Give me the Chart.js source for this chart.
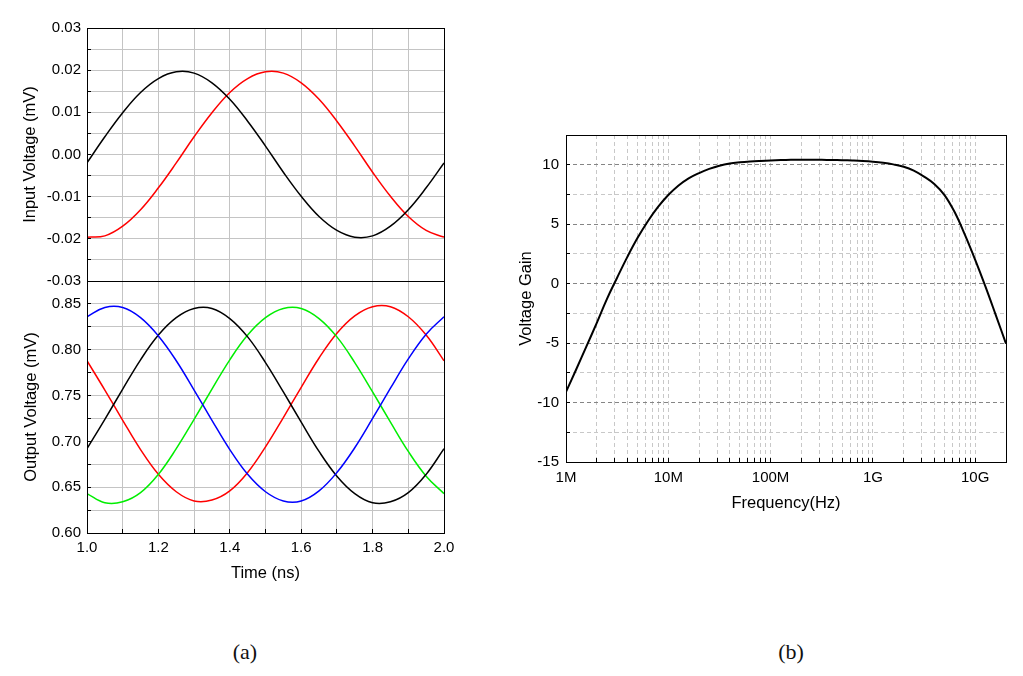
<!DOCTYPE html>
<html>
<head>
<meta charset="utf-8">
<script src="https://cdn.jsdelivr.net/npm/chart.js@4/dist/chart.umd.min.js"></script>
<style>
  body { margin: 0; background: #fff; width: 1023px; height: 676px; position: relative; overflow: hidden; }
  canvas { position: absolute; }
  .cap { position: absolute; width: 60px; text-align: center; font-family: "Liberation Serif", "DejaVu Serif", serif; font-size: 22px; line-height: 22px; color: #111; }
</style>
</head>
<body>
<canvas id="inputChart" width="460" height="290" style="left:0;top:0"></canvas>
<canvas id="outputChart" width="460" height="330" style="left:0;top:270px"></canvas>
<canvas id="gainChart" width="543" height="420" style="left:480px;top:100px"></canvas>
<div class="cap" style="left:215px;top:641px">(a)</div>
<div class="cap" style="left:761px;top:641px">(b)</div>
<script>
"use strict";

// ---------- data ----------
var timeNs = [1.00, 1.05, 1.10, 1.15, 1.20, 1.25, 1.30, 1.35, 1.40, 1.45, 1.50,
  1.55, 1.60, 1.65, 1.70, 1.75, 1.80, 1.85, 1.90, 1.95, 2.00];

var inputBlack = [-0.0020, 0.0042, 0.0099, 0.0147, 0.0180, 0.0196, 0.0193, 0.0170, 0.0131, 0.0079, 0.0020,
  -0.0042, -0.0099, -0.0147, -0.0180, -0.0196, -0.0193, -0.0170, -0.0131, -0.0079, -0.0020];
var inputRed = [-0.0196, -0.0193, -0.0170, -0.0131, -0.0079, -0.0020, 0.0042, 0.0099, 0.0147, 0.0180, 0.0196,
  0.0193, 0.0170, 0.0131, 0.0079, 0.0020, -0.0042, -0.0099, -0.0147, -0.0180, -0.0196];

var outBlue = [0.836, 0.846, 0.846, 0.835, 0.815, 0.788, 0.756, 0.723, 0.691, 0.664, 0.645,
  0.635, 0.635, 0.646, 0.666, 0.693, 0.725, 0.758, 0.790, 0.817, 0.836];
var outBlack = [0.692, 0.724, 0.757, 0.789, 0.816, 0.835, 0.845, 0.845, 0.834, 0.814, 0.786,
  0.754, 0.721, 0.689, 0.662, 0.643, 0.633, 0.634, 0.644, 0.664, 0.692];
var outGreen = [0.643, 0.633, 0.634, 0.644, 0.664, 0.692, 0.724, 0.757, 0.789, 0.816, 0.835,
  0.845, 0.845, 0.834, 0.814, 0.786, 0.754, 0.721, 0.689, 0.662, 0.643];
var outRed = [0.788, 0.756, 0.723, 0.691, 0.664, 0.645, 0.635, 0.636, 0.646, 0.666, 0.694,
  0.726, 0.759, 0.791, 0.818, 0.837, 0.847, 0.847, 0.836, 0.816, 0.788];

var freqHz = [1e6, 1.26e6, 1.58e6, 2e6, 2.51e6, 3.16e6, 3.98e6, 5.01e6, 6.31e6, 7.94e6,
  1e7, 1.26e7, 1.58e7, 2e7, 2.51e7, 3.16e7, 3.98e7, 5.01e7, 6.31e7, 7.94e7,
  1e8, 1.26e8, 1.58e8, 2e8, 2.51e8, 3.16e8, 3.98e8, 5.01e8, 6.31e8, 7.94e8,
  1e9, 1.26e9, 1.58e9, 2e9, 2.51e9, 3.16e9, 3.98e9, 5.01e9, 6.31e9, 7.94e9,
  1e10, 1.26e10, 1.58e10, 2e10];
var gainValues = [-9.1, -7.2, -5.3, -3.3, -1.3, 0.5, 2.25, 3.85, 5.25, 6.45,
  7.45, 8.25, 8.85, 9.3, 9.65, 9.92, 10.1, 10.2, 10.27, 10.32,
  10.36, 10.39, 10.41, 10.42, 10.42, 10.41, 10.4, 10.38, 10.35, 10.31,
  10.25, 10.16, 10.03, 9.83, 9.5, 9.0, 8.38, 7.45, 6.0, 4.1,
  2.0, -0.25, -2.58, -5.05];

// ticks
var timeTicks = [1.0, 1.1, 1.2, 1.3, 1.4, 1.5, 1.6, 1.7, 1.8, 1.9, 2.0];
var timeTickLabels = ["1.0", "", "1.2", "", "1.4", "", "1.6", "", "1.8", "", "2.0"];
var inputTicks = [-0.03, -0.025, -0.02, -0.015, -0.01, -0.005, 0, 0.005, 0.01, 0.015, 0.02, 0.025, 0.03];
var inputTickLabels = ["-0.03", "", "-0.02", "", "-0.01", "", "0.00", "", "0.01", "", "0.02", "", "0.03"];
var outputTicks = [0.6, 0.625, 0.65, 0.675, 0.7, 0.725, 0.75, 0.775, 0.8, 0.825, 0.85, 0.875];
var outputTickLabels = ["0.60", "", "0.65", "", "0.70", "", "0.75", "", "0.80", "", "0.85", ""];
var gainTicks = [-15, -12.5, -10, -7.5, -5, -2.5, 0, 2.5, 5, 7.5, 10, 12.5];
var gainTickLabels = ["-15", "", "-10", "", "-5", "", "0", "", "5", "", "10", ""];
var freqDecades = [1e6, 1e7, 1e8, 1e9, 1e10];
var freqDecadeLabels = ["1M", "10M", "100M", "1G", "10G"];

// ---------- helpers ----------
Chart.defaults.font.family = 'Arial, "Liberation Sans", sans-serif';
Chart.defaults.color = "#000";

var gridGray = "#c4c4c4";

function pts(xs, ys) {
  return xs.map(function (x, i) { return { x: x, y: ys[i] }; });
}

function fixedTicks(values) {
  return function (axis) {
    axis.ticks = values.map(function (v) { return { value: v }; });
  };
}

// fix the axis box size and stop labels from pushing the plot area in
function boxSize(w, h) {
  return function (s) {
    if (w !== null) s.width = w;
    if (h !== null) s.height = h;
    s.paddingLeft = 0;
    s.paddingRight = 0;
    s.paddingTop = 0;
    s.paddingBottom = 0;
  };
}

// black frame round the plot area
var framePlugin = {
  id: "frame",
  afterDraw: function (chart) {
    var a = chart.chartArea;
    var c = chart.ctx;
    c.save();
    c.strokeStyle = "#000";
    c.lineWidth = 1;
    c.strokeRect(Math.round(a.left) + 0.5, Math.round(a.top) + 0.5,
      Math.round(a.right - a.left), Math.round(a.bottom - a.top));
    c.restore();
  }
};

var common = {
  responsive: false,
  animation: false,
  plugins: { legend: { display: false }, tooltip: { enabled: false } },
  elements: { point: { radius: 0 }, line: { borderWidth: 1.5, tension: 0.4 } }
};

//---------------- (a) top: input voltage ----------------
new Chart(document.getElementById("inputChart"), {
  type: "line",
  data: {
    datasets: [
      { data: pts(timeNs, inputBlack), borderColor: "#000000" },
      { data: pts(timeNs, inputRed), borderColor: "#ff0000" }
    ]
  },
  options: Object.assign({}, common, {
    layout: { padding: { top: 28, right: 16, left: 0, bottom: 0 } },
    scales: {
      x: {
        type: "linear", min: 1, max: 2,
        afterBuildTicks: fixedTicks(timeTicks),
        ticks: { display: false },
        grid: { color: gridGray, drawTicks: false },
        border: { display: false },
        afterFit: boxSize(null, 9)
      },
      y: {
        min: -0.03, max: 0.03,
        afterBuildTicks: fixedTicks(inputTicks),
        ticks: {
          autoSkip: false, padding: 10, font: { size: 15 },
          callback: function (v, i) { return inputTickLabels[i]; }
        },
        grid: { color: gridGray, tickLength: -4, tickColor: "#000" },
        border: { display: false },
        title: { display: true, text: "Input Voltage (mV)", font: { size: 16.5 }, padding: { top: 21, bottom: 0 } },
        afterFit: boxSize(87, null)
      }
    }
  }),
  plugins: [framePlugin]
});

//---------------- (a) bottom: output voltage ----------------
new Chart(document.getElementById("outputChart"), {
  type: "line",
  data: {
    datasets: [
      { data: pts(timeNs, outBlue), borderColor: "#0000ff" },
      { data: pts(timeNs, outBlack), borderColor: "#000000" },
      { data: pts(timeNs, outGreen), borderColor: "#00ee00" },
      { data: pts(timeNs, outRed), borderColor: "#ff0000" }
    ]
  },
  options: Object.assign({}, common, {
    layout: { padding: { top: 11, right: 16, left: 0, bottom: 0 } },
    scales: {
      x: {
        type: "linear", min: 1, max: 2,
        afterBuildTicks: fixedTicks(timeTicks),
        ticks: {
          autoSkip: false, maxRotation: 0, padding: 10, font: { size: 15 },
          callback: function (v, i) { return timeTickLabels[i]; }
        },
        grid: { color: gridGray, tickLength: -4, tickColor: "#000" },
        border: { display: false },
        title: { display: true, text: "Time (ns)", font: { size: 16.5 }, padding: { top: 0, bottom: 17 } },
        afterFit: boxSize(null, 67)
      },
      y: {
        min: 0.6, max: 0.875,
        afterBuildTicks: fixedTicks(outputTicks),
        ticks: {
          autoSkip: false, padding: 10, font: { size: 15 },
          callback: function (v, i) { return outputTickLabels[i]; }
        },
        grid: { color: gridGray, tickLength: -4, tickColor: "#000" },
        border: { display: false },
        title: { display: true, text: "Output Voltage (mV)", font: { size: 16.5 }, padding: { top: 22, bottom: 0 } },
        afterFit: boxSize(87, null)
      }
    }
  }),
  plugins: [framePlugin]
});

//---------------- (b) voltage gain vs frequency ----------------
new Chart(document.getElementById("gainChart"), {
  type: "line",
  data: {
    datasets: [
      { data: pts(freqHz, gainValues), borderColor: "#000000", borderWidth: 2 }
    ]
  },
  options: Object.assign({}, common, {
    layout: { padding: { top: 35, right: 17, left: 0, bottom: 0 } },
    scales: {
      x: {
        type: "logarithmic", min: 1e6, max: 2e10,
        afterBuildTicks: function (axis) {
          var t = [];
          freqDecades.forEach(function (d) {
            for (var m = 1; m <= 9; m++) {
              if (m * d <= 2e10) t.push({ value: m * d });
            }
          });
          axis.ticks = t;
        },
        ticks: {
          autoSkip: false, maxRotation: 0, padding: 11, font: { size: 15 },
          callback: function (v) {
            var k = freqDecades.indexOf(v);
            return k >= 0 ? freqDecadeLabels[k] : "";
          }
        },
        grid: { color: "#c8c8c8", tickLength: -4, tickColor: "#000" },
        border: { display: false, dash: [4, 3] },
        title: { display: true, text: "Frequency(Hz)", font: { size: 16.5 }, padding: { top: 0, bottom: 7 } },
        afterFit: boxSize(null, 58)
      },
      y: {
        min: -15, max: 12.5,
        afterBuildTicks: fixedTicks(gainTicks),
        ticks: {
          autoSkip: false, padding: 11, font: { size: 15 },
          callback: function (v, i) { return gainTickLabels[i]; }
        },
        grid: {
          color: function (ctx) { return gainTickLabels[ctx.index] !== "" ? "#858585" : "#c8c8c8"; },
          tickLength: -4, tickColor: "#000"
        },
        border: { display: false, dash: [4, 3] },
        title: { display: true, text: "Voltage Gain", font: { size: 16.5 }, padding: { top: 37, bottom: 0 } },
        afterFit: boxSize(86, null)
      }
    }
  }),
  plugins: [framePlugin]
});
</script>
</body>
</html>
